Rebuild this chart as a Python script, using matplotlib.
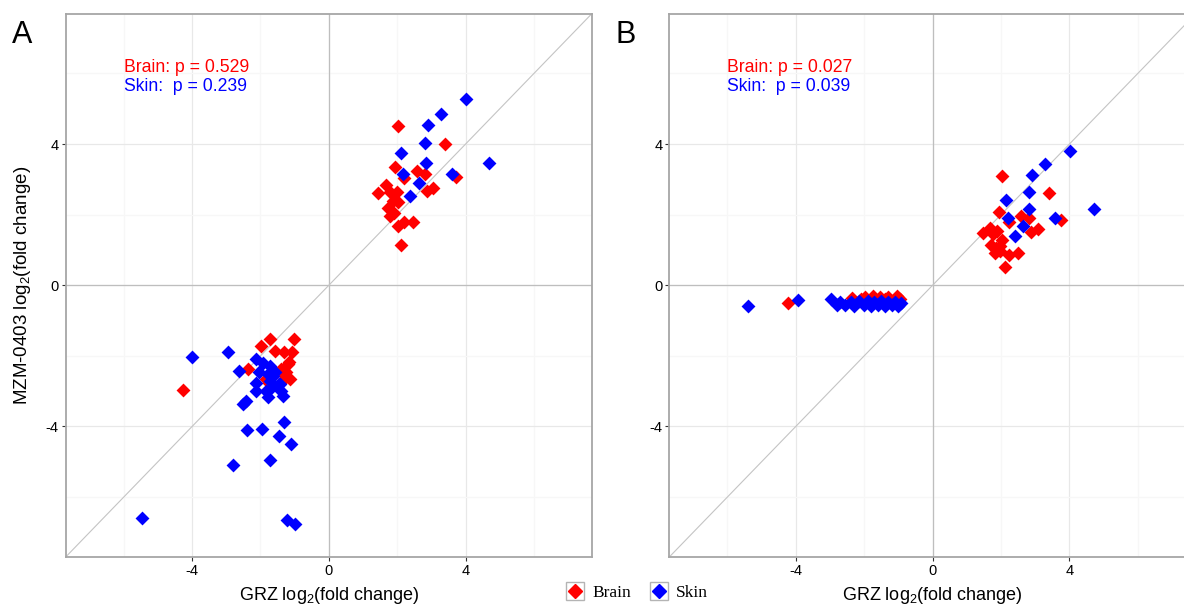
import matplotlib
matplotlib.use("Agg")
import matplotlib.pyplot as plt
from matplotlib.lines import Line2D
from matplotlib.legend_handler import HandlerTuple

plt.rcParams['font.family'] = ['Liberation Sans', 'DejaVu Sans']
plt.rcParams['mathtext.default'] = 'regular'
plt.rcParams['axes.unicode_minus'] = False

# Panel A data (GRZ vs MZM-0403 log2 fold change)
a_brain_x = [2.02, 3.39, 1.94, 2.58, 2.80, 2.19, 3.72, 1.68, 1.45, 1.98, 1.79, 2.88, 3.06, 1.87,
             2.03, 1.73, 1.90, 1.79, 2.01, 2.21, 2.47, 2.10,
             -1.73, -1.03, -1.98, -1.59, -1.30, -1.07, -1.20, -1.39, -1.25, -1.15, -2.37, -1.83,
             -1.75, -4.27, -1.16, -1.40, -1.30, -1.27]
a_brain_y = [4.52, 3.99, 3.36, 3.24, 3.16, 3.04, 3.08, 2.85, 2.61, 2.63, 2.65, 2.66, 2.75, 2.38,
             2.35, 2.19, 2.05, 1.95, 1.69, 1.78, 1.80, 1.14,
             -1.53, -1.53, -1.72, -1.86, -1.88, -1.88, -2.24, -2.43, -2.47, -2.66, -2.38, -2.66,
             -2.76, -2.98, -2.17, -2.38, -2.67, -2.55]
a_skin_x = [4.02, 3.28, 2.91, 2.80, 2.11, 2.83, 4.70, 2.18, 3.59, 2.65, 2.38,
            -3.99, -2.95, -2.63, -2.12, -1.93, -1.73, -2.03, -1.78, -1.59, -2.12, -1.73, -1.44,
            -1.39, -1.83, -2.12, -1.78, -2.42, -2.51, -1.34, -1.68, -1.30, -2.40, -1.97, -1.46,
            -1.12, -1.72, -2.81, -5.46, -1.22, -0.98, -1.64, -1.47]
a_skin_y = [5.27, 4.86, 4.54, 4.03, 3.74, 3.45, 3.46, 3.16, 3.16, 2.91, 2.52,
            -2.03, -1.88, -2.43, -2.10, -2.19, -2.29, -2.47, -2.52, -2.47, -2.76, -2.71, -2.80,
            -2.99, -2.99, -2.99, -3.18, -3.28, -3.37, -3.14, -2.90, -3.88, -4.11, -4.07, -4.26,
            -4.51, -4.95, -5.10, -6.59, -6.65, -6.76, -2.57, -2.81]

# Panel B data
b_brain_x = [2.02, 3.41, 1.94, 2.58, 2.82, 2.22, 3.75, 1.67, 1.46, 1.87, 2.04, 1.71, 1.84, 1.98,
             1.82, 2.23, 2.50, 2.89, 3.07, 2.11, 1.77, 1.96,
             -4.23, -2.36, -1.97, -1.73, -1.53, -1.29, -1.05, -0.95, -2.10, -1.40]
b_brain_y = [3.10, 2.61, 2.08, 1.97, 1.90, 1.79, 1.84, 1.62, 1.48, 1.53, 1.29, 1.15, 1.06, 0.96,
             0.92, 0.87, 0.90, 1.51, 1.58, 0.51, 1.44, 1.10,
             -0.51, -0.35, -0.32, -0.30, -0.33, -0.34, -0.30, -0.38, -0.38, -0.40]
b_skin_x = [4.03, 3.28, 2.90, 2.82, 2.14, 2.83, 4.71, 2.20, 3.57, 2.65, 2.40,
            -5.39, -3.94, -2.97, -2.80, -2.70, -2.55, -2.40, -2.30, -2.15, -2.00, -1.90, -1.80,
            -1.70, -1.60, -1.50, -1.40, -1.30, -1.20, -1.10, -1.00, -0.93]
b_skin_y = [3.81, 3.43, 3.12, 2.65, 2.41, 2.15, 2.16, 1.91, 1.91, 1.69, 1.39,
            -0.60, -0.43, -0.40, -0.57, -0.47, -0.55, -0.48, -0.58, -0.46, -0.56, -0.45, -0.58,
            -0.48, -0.56, -0.45, -0.58, -0.47, -0.57, -0.48, -0.58, -0.50]

p_text = {'A': ("Brain: p = 0.529", "Skin:  p = 0.239"),
          'B': ("Brain: p = 0.027", "Skin:  p = 0.039")}

RED = '#FF0000'
BLUE = '#0000FF'
LIM = 7.7


def panel(ax, bx, by, sx, sy, texts, ylabel):
    ax.set_xlim(-LIM, LIM)
    ax.set_ylim(-LIM, LIM)
    ax.set_xticks([-4, 0, 4])
    ax.set_yticks([-4, 0, 4])
    ax.set_xticks([-6, -2, 2, 6], minor=True)
    ax.set_yticks([-6, -2, 2, 6], minor=True)
    ax.grid(which='major', color='#E8E8E8', lw=0.9)
    ax.grid(which='minor', color='#F7F7F7', lw=0.9)
    ax.tick_params(which='minor', length=0)
    ax.tick_params(which='major', length=3, width=0.8, color='#333333', labelsize=10.5, pad=2)
    ax.set_axisbelow(True)
    for s in ax.spines.values():
        s.set_color('#A6A6A6')
        s.set_linewidth(1.3)
    ax.axhline(0, color='#BEBEBE', lw=0.9, zorder=1)
    ax.axvline(0, color='#BEBEBE', lw=0.9, zorder=1)
    ax.plot([-LIM, LIM], [-LIM, LIM], color='#C4C4C4', lw=0.8, zorder=1)
    ax.scatter(bx, by, marker='D', s=50, color=RED, lw=0, zorder=3)
    ax.scatter(sx, sy, marker='D', s=50, color=BLUE, lw=0, zorder=3)
    ax.text(-6.0, 6.18, texts[0], color=RED, fontsize=12.7, va='center', ha='left')
    ax.text(-6.0, 5.64, texts[1], color=BLUE, fontsize=12.7, va='center', ha='left')
    ax.set_xlabel('GRZ log$_2$(fold change)', fontsize=13, labelpad=5)
    if ylabel:
        ax.set_ylabel('MZM-0403 log$_2$(fold change)', fontsize=13.5, labelpad=9)


fig = plt.figure(figsize=(11.84, 6.08), dpi=100)
ax1 = fig.add_axes([65.7 / 1184, 51 / 608, 526.3 / 1184, 543.5 / 608])
ax2 = fig.add_axes([669.3 / 1184, 51 / 608, 526.6 / 1184, 543.5 / 608])

panel(ax1, a_brain_x, a_brain_y, a_skin_x, a_skin_y, p_text['A'], True)
panel(ax2, b_brain_x, b_brain_y, b_skin_x, b_skin_y, p_text['B'], False)

fig.text(12 / 1184, 1 - 35 / 608, 'A', fontsize=22, va='center', ha='left')
fig.text(616 / 1184, 1 - 35 / 608, 'B', fontsize=22, va='center', ha='left')

box = dict(marker='s', ms=13, mfc='white', mec='#B4B4B4', mew=1.0, ls='')
h_brain = (Line2D([], [], **box), Line2D([], [], marker='D', ms=7, color=RED, ls=''))
h_skin = (Line2D([], [], **box), Line2D([], [], marker='D', ms=7, color=BLUE, ls=''))
fig.legend([h_brain, h_skin], ['Brain', 'Skin'], handler_map={tuple: HandlerTuple(ndivide=1, pad=0)},
           loc='center', bbox_to_anchor=(637 / 1184, 1 - 593 / 608), ncol=2, frameon=False,
           prop={'family': 'Liberation Serif', 'size': 12.5}, handlelength=1.0, handletextpad=0.5,
           columnspacing=1.1)

fig.savefig('out.png', dpi=100)
